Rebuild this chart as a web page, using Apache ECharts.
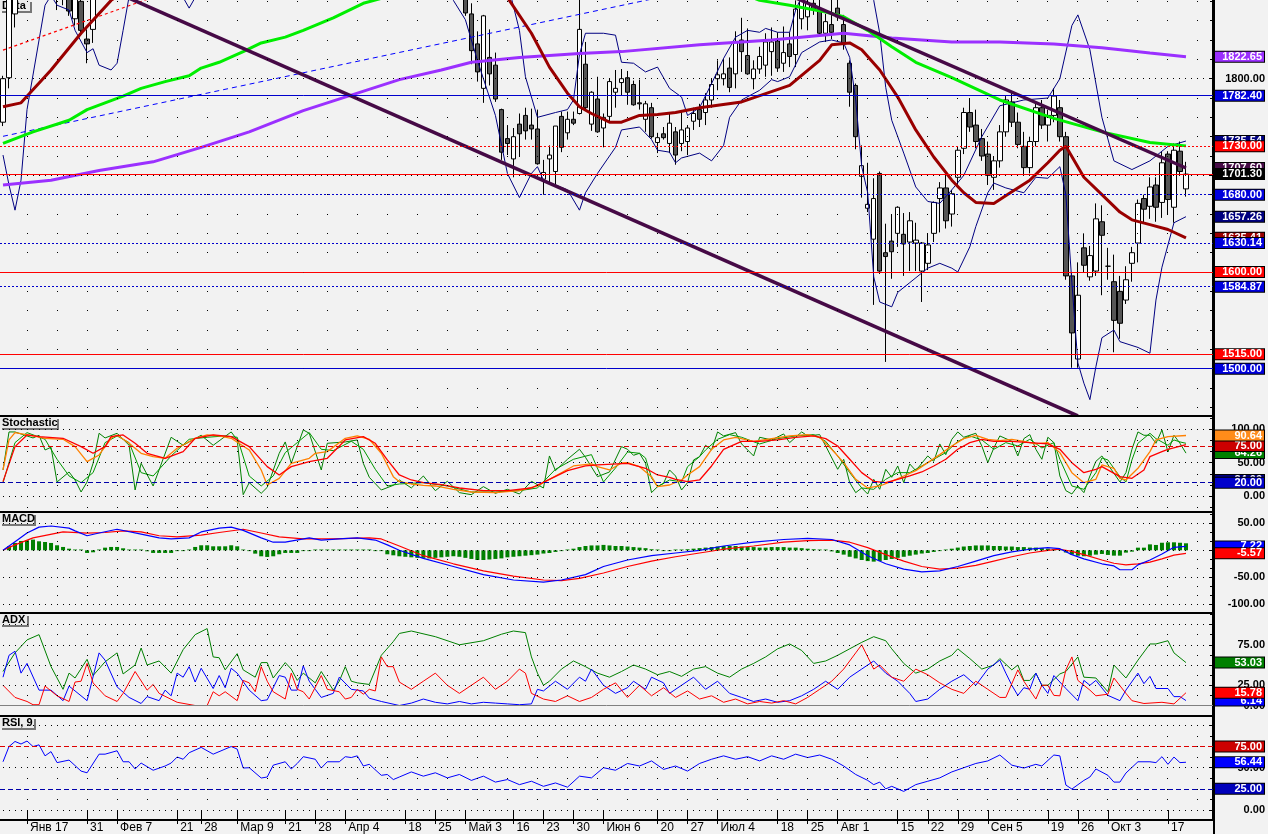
<!DOCTYPE html>
<html><head><meta charset="utf-8">
<script src="https://cdn.jsdelivr.net/npm/echarts@6.0.0/dist/echarts.min.js"></script>
<style>html,body{margin:0;padding:0;background:#f2f2f2;}#c{width:1268px;height:834px;}</style>
</head><body><div id="c"></div>
<script>
// ---------- DATA ----------
const dayCount = 202;
const tickIdx = [4,14,19,29,33,39,47,52,57,67,72,77,85,90,95,100,109,114,119,129,134,139,149,154,159,164,174,179,184,194];
const tickText = ['Янв 17','31','Фев 7','21','28','Мар 9','21','28','Апр 4','18','25','Май 3','16','23','30','Июн 6','20','27','Июл 4','18','25','Авг 1','15','22','29','Сен 5','19','26','Окт 3','17'];

// daily candles: [open, high, low, close]
const ohlc = [
[1755,1803,1751,1800],[1801,1895,1790,1890],[1867,1905,1853,1898],[1898,1925,1888,1915],[1915,1940,1900,1930],
[1930,1945,1905,1912],[1912,1935,1898,1928],[1928,1950,1915,1940],[1940,1955,1900,1905],[1905,1915,1871,1890],
[1890,1910,1876,1902],[1890,1905,1865,1870],[1862,1900,1855,1895],[1880,1895,1846,1850],[1841,1851,1816,1836],
[1851,1905,1837,1898],[1898,1920,1890,1915],[1915,1935,1905,1930],[1930,1950,1920,1945],[1945,1960,1930,1938],
[1938,1955,1925,1950],[1950,1965,1935,1940],[1940,1948,1915,1920],[1920,1945,1912,1940],[1940,1955,1925,1930],
[1930,1940,1905,1910],[1910,1935,1900,1932],[1932,1950,1925,1946],[1946,1965,1938,1960],[1960,1970,1945,1950],
[1950,1962,1940,1958],[1958,1975,1950,1970],[1970,1985,1960,1980],[1980,1992,1968,1975],[1975,1990,1965,1985],
[1985,1998,1975,1990],[1990,2000,1978,1982],[1982,1995,1970,1992],[1992,2005,1985,2000],[2000,2008,1975,1978],
[1978,1985,1940,1945],[1945,1960,1935,1955],[1955,1960,1925,1930],[1930,1945,1915,1940],[1940,1965,1935,1960],
[1960,1975,1950,1970],[1970,1980,1955,1958],[1958,1972,1948,1968],[1968,1985,1960,1980],[1980,1990,1970,1975],
[1975,1988,1965,1984],[1984,1995,1975,1980],[1980,1985,1955,1960],[1960,1975,1950,1972],[1972,1980,1960,1965],
[1965,1978,1955,1975],[1975,1990,1968,1985],[1985,1995,1975,1980],[1980,1992,1972,1988],[1988,1998,1978,1982],
[1982,1986,1955,1960],[1960,1968,1940,1945],[1945,1955,1930,1950],[1950,1958,1925,1930],[1930,1940,1915,1935],
[1935,1945,1910,1915],[1915,1928,1905,1920],[1920,1932,1908,1912],[1912,1925,1900,1922],[1922,1935,1915,1930],
[1930,1938,1905,1908],[1908,1920,1898,1915],[1915,1925,1900,1905],[1905,1918,1895,1912],[1912,1920,1892,1898],
[1898,1912,1890,1908],[1908,1915,1888,1892],[1892,1898,1865,1868],[1867,1878,1815,1829],[1836,1849,1797,1807],
[1790,1866,1775,1865],[1822,1851,1793,1805],[1814,1827,1776,1779],[1768,1769,1716,1724],[1738,1752,1721,1733],
[1717,1749,1698,1740],[1753,1764,1719,1743],[1762,1770,1737,1746],[1752,1769,1737,1748],[1748,1768,1711,1712],
[1696,1716,1680,1703],[1717,1731,1693,1721],[1704,1751,1689,1751],[1761,1766,1724,1729],[1744,1766,1737,1758],
[1758,1766,1752,1754],[1764,1895,1763,1851],[1815,1838,1768,1770],[1753,1787,1746,1786],[1779,1802,1744,1745],
[1749,1764,1729,1760],[1761,1800,1755,1797],[1786,1809,1770,1790],[1796,1810,1783,1800],[1801,1808,1773,1786],
[1794,1798,1772,1773],[1775,1799,1768,1774],[1758,1777,1745,1774],[1770,1775,1738,1740],[1734,1744,1723,1739],
[1743,1750,1737,1739],[1733,1765,1723,1754],[1745,1750,1711,1721],[1733,1767,1725,1747],[1735,1752,1721,1749],
[1756,1770,1747,1764],[1768,1774,1750,1758],[1765,1785,1752,1778],[1778,1800,1770,1794],[1800,1819,1788,1804],
[1800,1821,1793,1805],[1811,1822,1786,1791],[1805,1849,1790,1838],[1840,1863,1807,1828],[1824,1852,1804,1805],
[1800,1819,1789,1810],[1810,1833,1805,1823],[1814,1847,1802,1838],[1828,1853,1803,1838],[1839,1848,1807,1811],
[1816,1854,1807,1827],[1836,1848,1812,1823],[1825,1881,1812,1872],[1862,1890,1851,1882],[1864,1888,1850,1878],
[1878,1886,1866,1872],[1871,1886,1845,1847],[1847,1867,1838,1859],[1856,1886,1841,1848],[1873,1885,1860,1864],
[1856,1866,1830,1836],[1816,1819,1771,1786],[1793,1795,1727,1740],[1699,1731,1677,1710],[1666,1713,1662,1670],
[1634,1697,1566,1676],[1702,1704,1598,1601],[1620,1650,1507,1616],[1632,1660,1593,1621],[1640,1668,1626,1667],
[1639,1661,1596,1629],[1631,1662,1601,1653],[1630,1651,1601,1633],[1601,1631,1569,1630],[1609,1640,1602,1628],
[1640,1673,1631,1672],[1676,1693,1641,1687],[1687,1700,1645,1653],[1660,1685,1647,1681],[1698,1730,1690,1726],
[1728,1770,1722,1765],[1765,1780,1745,1750],[1752,1768,1728,1735],[1738,1748,1715,1720],[1722,1735,1690,1700],
[1698,1720,1685,1715],[1715,1752,1708,1745],[1745,1782,1740,1778],[1776,1786,1750,1755],[1755,1765,1728,1732],
[1730,1745,1700,1708],[1708,1740,1702,1735],[1735,1775,1730,1770],[1770,1778,1748,1752],[1752,1768,1735,1762],
[1762,1790,1755,1782],[1770,1778,1735,1740],[1740,1745,1592,1596],[1596,1600,1501,1537],[1510,1610,1501,1576],
[1625,1640,1600,1607],[1595,1627,1591,1617],[1601,1671,1596,1655],[1652,1669,1576,1638],[1606,1625,1592,1606],
[1590,1618,1517,1550],[1580,1596,1531,1547],[1571,1606,1567,1592],[1609,1626,1590,1620],[1630,1675,1610,1671],
[1676,1680,1650,1665],[1668,1698,1655,1688],[1690,1698,1652,1667],[1672,1725,1656,1713],[1722,1725,1660,1675],
[1667,1733,1651,1726],[1725,1735,1700,1704],[1686,1714,1678,1701.3]
];

// price overlays: [dayIndex, value]
const maDarkRed = [[0,1771],[3,1775],[8,1809],[13,1847],[18,1881],[25,1912],[35,1945],[50,1955],[65,1940],[75,1915],[84,1884],[88,1847],[91,1812],[94,1785],[96,1771],[98,1764],[101,1755],[103,1755],[106,1762],[109,1763],[112,1765],[116,1770],[123,1776],[131,1793],[136,1819],[138,1835],[141,1837],[143,1830],[146,1809],[149,1781],[152,1747],[155,1719],[158,1695],[160,1682],[162,1672],[165,1671],[168,1683],[171,1695],[174,1713],[176,1726],[177,1730],[180,1698],[183,1680],[186,1662],[188,1654],[191,1649],[194,1644],[197,1635.41]];
const maGreen = [[0,1733],[5,1745],[11,1757],[14,1768],[20,1782],[23,1790],[27,1797],[31,1803],[33,1811],[36,1817],[40,1828],[43,1837],[47,1843],[50,1850],[55,1863],[60,1878],[70,1895],[90,1905],[110,1900],[124,1886],[126,1881],[131,1876],[137,1869],[140,1864],[144,1850],[148,1833],[152,1817],[158,1801],[166,1778],[175,1759],[183,1745],[191,1734],[197,1730.5]];
const maPurple = [[0,1690],[8,1695],[16,1705],[25,1714],[33,1729],[41,1745],[50,1767],[58,1783],[66,1799],[73,1809],[78,1817],[86,1822],[96,1826],[103,1828],[116,1835],[128,1840],[140,1847],[148,1842],[158,1838],[166,1838],[175,1836],[183,1832],[191,1826.5],[197,1822.65]];
const bandUpper = [[0,1960],[20,1990],[40,2020],[60,2010],[75,1960],[84,1900],[86,1850],[87,1802],[89,1760],[92,1765],[94,1768],[95,1778],[96,1825],[97,1847],[100,1847],[102,1845],[103,1817],[105,1816],[107,1807],[109,1812],[111,1790],[113,1781],[114,1762],[116,1770],[118,1795],[120,1821],[122,1843],[124,1850],[126,1848],[127,1852],[129,1848],[131,1848],[132,1871],[133,1885],[137,1920],[141,1920],[144,1895],[145,1881],[146,1847],[147,1791],[148,1757],[150,1723],[152,1688],[154,1673],[156,1671],[158,1685],[160,1700],[163,1740],[166,1772],[170,1778],[174,1780],[176,1800],[178,1855],[179,1866],[181,1830],[183,1760],[185,1715],[188,1706],[191,1715],[194,1730],[197,1735.54]];
const bandLower = [[0,1721],[1,1690],[2,1664],[3,1695],[4,1768],[6,1840],[7,1876],[8,1886],[9,1876],[11,1871],[12,1850],[14,1827],[15,1831],[16,1814],[18,1809],[19,1816],[20,1850],[21,1885],[25,1900],[30,1884],[31,1873],[32,1884],[40,1910],[60,1920],[72,1900],[75,1881],[77,1861],[79,1819],[82,1762],[84,1702],[86,1677],[88,1702],[89,1709],[90,1695],[92,1690],[94,1685],[96,1664],[97,1682],[99,1702],[102,1729],[103,1747],[106,1750],[108,1737],[109,1726],[111,1724],[112,1713],[113,1718],[116,1723],[118,1715],[120,1731],[121,1760],[123,1778],[126,1788],[128,1799],[129,1797],[131,1802],[133,1827],[136,1838],[138,1840],[140,1837],[141,1822],[142,1778],[143,1709],[144,1682],[145,1595],[146,1569],[148,1564],[149,1579],[151,1589],[153,1599],[154,1604],[156,1609],[158,1604],[159,1600],[161,1626],[162,1647],[164,1682],[165,1692],[167,1687],[170,1682],[172,1698],[174,1697],[176,1709],[177,1680],[178,1589],[179,1506],[180,1485],[181,1468],[182,1502],[183,1532],[185,1540],[186,1528],[189,1522],[191,1516],[192,1571],[193,1605],[195,1651],[197,1657.26]];
const trendBlueDash = [[0,1740.4],[120,1898.1]];
const trendRedDash = [[0,1829.6],[30,1895.2]];
const trendDark1 = [[20,1886],[179,1451.1]];
const trendDark2 = [[130,1889],[197,1707.6]];
const levelsMain = {blueSolid:[1782.4,1500], redSolid:[1701.3,1600,1515], redDotted:[1730], blueDotted:[1680,1630.14,1584.87]};

// stochastic
const stochGreen = [[0,39],[1,96],[2,96],[4,90],[5,87],[6,91],[7,69],[8,73],[9,21],[11,36],[12,24],[13,6],[14,21],[15,49],[16,94],[17,87],[19,94],[21,76],[22,9],[23,49],[25,15],[28,88],[30,76],[33,91],[35,76],[38,96],[39,84],[40,2],[41,20],[43,4],[44,13],[46,64],[47,81],[48,49],[50,99],[51,94],[53,39],[54,79],[57,81],[59,84],[60,49],[61,28],[63,9],[65,16],[66,24],[68,12],[70,30],[72,8],[74,22],[76,5],[78,2],[80,14],[82,4],[84,10],[86,3],[88,22],[90,12],[91,60],[92,38],[94,55],[96,70],[97,58],[99,29],[101,36],[103,74],[104,70],[105,61],[106,64],[107,49],[108,5],[109,14],[110,19],[111,39],[112,30],[113,9],[114,20],[115,54],[116,59],[117,76],[118,69],[119,96],[120,90],[122,95],[123,78],[125,60],[126,88],[128,84],[130,93],[131,80],[133,96],[134,90],[136,92],[137,75],[139,40],[140,55],[141,20],[142,5],[143,12],[144,3],[145,25],[146,10],[147,40],[148,28],[149,45],[150,20],[151,48],[152,38],[154,60],[155,52],[156,78],[157,62],[158,85],[159,96],[160,88],[162,94],[163,75],[164,50],[165,72],[166,90],[168,82],[169,60],[170,86],[171,92],[172,70],[173,55],[174,88],[175,80],[176,30],[177,8],[178,3],[179,15],[180,5],[181,30],[182,52],[183,60],[185,34],[186,21],[187,35],[188,70],[189,96],[190,91],[191,91],[192,79],[193,99],[194,66],[195,91],[196,79],[197,64.26]];
const stochGreen2 = [[0,20],[2,80],[4,95],[7,85],[9,55],[11,30],[13,20],[15,35],[17,80],[19,90],[21,80],[23,35],[25,30],[28,60],[31,85],[34,88],[37,90],[39,88],[41,30],[43,15],[45,30],[47,65],[49,80],[51,95],[53,70],[55,68],[58,82],[60,70],[62,40],[64,15],[66,18],[70,20],[74,15],[78,6],[82,6],[86,8],[89,12],[92,40],[95,55],[98,62],[100,21],[102,42],[104,66],[106,64],[107,57],[108,27],[109,14],[111,24],[113,21],[114,44],[116,59],[117,69],[119,85],[121,92],[123,88],[126,78],[129,86],[132,90],[135,92],[137,82],[139,60],[141,35],[143,12],[145,10],[147,25],[149,35],[151,35],[153,45],[155,55],[157,65],[159,82],[161,90],[163,84],[165,70],[167,80],[169,75],[171,85],[173,72],[175,80],[176,55],[178,15],[180,10],[182,35],[183,57],[184,54],[186,29],[187,21],[188,54],[189,79],[191,94],[192,86],[194,76],[195,84],[196,81],[197,79]];
const stochOrange = [[0,39],[1,84],[2,95],[5,90],[7,86.5],[10,85],[12,74],[14,51.5],[16,61.5],[18,86.5],[19,91.5],[21,79],[23,64],[25,59],[27,56.5],[29,71.5],[32,86.5],[34,91.5],[36,90],[38,86.5],[41,69],[43,39],[44,16.5],[46,26.5],[48,49],[51,56.5],[52,64],[54,66.5],[57,86.5],[59,90],[61,85],[63,64],[65,29],[66,21.5],[68,18],[70,16],[72,15],[75,10],[78,6],[82,5],[86,8],[89,15],[92,30],[95,45],[98,48],[99,44],[101,39],[103,49.5],[104,50],[106,44],[108,29],[109,14],[111,16.5],[113,24],[114,31.5],[116,44],[118,70],[120,84],[122,88],[125,82],[128,86],[131,90],[134,92],[136,88],[138,70],[140,50],[142,25],[144,12],[146,15],[148,22],[150,30],[152,38],[154,50],[156,62],[158,75],[160,86],[162,91],[164,85],[166,83],[168,85],[170,82],[172,78],[174,80],[176,65],[178,35],[180,20],[182,25],[183,46.5],[185,41.5],[186,26.5],[187,24],[189,41.5],[191,66.5],[192,84],[194,89],[197,90.64]];
const stochRed = [[0,21.5],[2,74],[4,91.5],[6,89],[10,86.5],[13,74],[15,64],[17,74],[18,89],[20,91.5],[22,79],[24,64],[27,56.5],[30,66.5],[32,86.5],[35,91.5],[38,89],[41,74],[44,44],[46,31.5],[48,44],[51,51.5],[54,56.5],[57,84],[60,89],[62,79],[64,54],[66,31.5],[68,24],[70,20],[73,17],[76,12],[80,8],[84,8],[88,12],[91,25],[94,38],[97,45],[99,46.5],[104,49],[107,41.5],[109,31.5],[111,28],[112,25],[114,21.5],[116,24],[118,45],[120,70],[123,82],[126,82],[129,84],[132,88],[135,90],[137,86],[139,75],[141,55],[143,35],[145,22],[147,20],[149,25],[151,30],[153,36],[155,45],[157,55],[159,70],[161,80],[163,85],[165,82],[168,82],[171,80],[174,78],[176,70],[178,50],[180,35],[182,40],[183,44],[186,29],[188,26.5],[190,39],[191,59],[193,66.5],[194,70],[197,77]];

// MACD
const macdLine = [[0,0],[2,16],[4,32],[6,43],[8,45],[11,41],[12,36],[14,27],[16,32],[19,39],[23,30],[26,23],[28,21],[31,23],[33,34],[36,41],[38,43],[40,37],[43,23],[45,15],[47,15],[51,23],[53,19],[56,21],[59,23],[62,19],[64,10],[66,0],[70,-15],[75,-30],[80,-45],[85,-55],[90,-59],[93,-55],[97,-45],[100,-30],[104,-18],[108,-10],[112,-5],[116,0],[120,8],[125,15],[130,20],[134,22],[138,20],[141,10],[144,-10],[147,-25],[150,-35],[153,-40],[156,-38],[159,-30],[162,-20],[165,-10],[168,-3],[171,2],[174,5],[176,3],[178,-8],[180,-16],[183,-25],[185,-29],[186,-36],[188,-36],[189,-27],[191,-18],[193,-7],[195,5.5],[197,7.22]];
const macdSignal = [[0,0],[2,10],[5,23],[10,34],[14,32],[17,33],[20,36],[23,34],[26,27],[29,25],[33,28],[36,33],[40,39],[43,32],[46,25],[50,21],[55,21],[61,23],[63,21],[66,8],[70,-10],[75,-25],[80,-38],[85,-48],[90,-55],[93,-56],[96,-52],[100,-42],[104,-30],[108,-20],[112,-12],[116,-5],[120,2],[125,8],[130,15],[134,18],[138,19],[141,15],[144,5],[147,-8],[150,-20],[153,-30],[156,-35],[159,-33],[162,-28],[165,-20],[168,-12],[171,-5],[174,0],[176,2],[178,-2],[180,-8],[183,-18],[185,-24],[187,-27],[189,-25],[191,-22],[193,-16],[195,-9],[197,-5.57]];
const macdHist = [0,7.4,13.6,17.3,18.5,19.8,16.7,15.4,13.6,9.3,6.2,3,1.5,1.5,-4.9,-3.7,1.5,4.9,6.2,6.2,3.7,1.5,1.5,1.5,-1.8,-4.9,-4.9,-4.9,-4.9,-1.5,-1.5,1.5,6.2,9.3,9.3,7.4,7.4,7.4,9.3,7.4,1.5,-1.5,-6.2,-11.1,-12.3,-11.1,-7.4,-4.9,-4.9,-4.9,-1.5,-1.5,1.5,1.5,1.5,1.5,1.5,1.5,1.5,1.5,1.5,1.5,-1.5,-1.5,-7.4,-9.3,-11.1,
-12,-13,-14,-14,-15,-14,-13,-12,-11,-12,-14,-16,-18,-18,-17,-16,-15,-13,-12,-11,-10,-9,-8,-6,-5,-3,-1.5,1.5,3,6,8,9,9,10,9,8,8,7,6,5,4,2,1.5,-1.5,-1.5,1.5,1.5,2,3,4,5,6,7,8,8,8,7,6,6,5,5,6,6,6,5,5,4,3,2,1.5,1.5,-2,-5,-8,-12,-15,-18,-20,-21,-20,-18,-16,-14,-12,-10,-8,-6,-5,-3,-1.5,1.5,3,5,7,8,9,9,9,8,8,7,7,6,6,5,5,4,3,2,1.5,-4,-8,-10,-11,-10,-8,-6.8,-8.6,-9.9,-9.9,-4.3,-2.5,4.9,4.9,11,9.9,14,14.8,14.8,14,13];

// ADX
const adxLine = [[0,42],[2,65],[4,81],[6,87.5],[8,48],[10,20],[11,40],[12,34],[14,57],[15,37],[17,54],[19,65],[20,39],[22,50],[23,71],[24,50],[26,55],[28,40],[30,69],[32,87.5],[34,95],[35,60],[36,59],[37,44],[39,64],[40,44],[42,35],[43,53],[44,53],[45,34],[47,53],[48,45],[49,31],[50,40],[52,28],[53,42],[55,19],[56,30],[57,48],[58,30],[59,28],[61,26],[63,62],[65,79],[66,89],[68,92],[72,85],[76,75],[80,80],[83,88],[85,92],[87,90],[88,60],[89,40],[90,25],[91,30],[93,45],[95,55],[97,48],[99,40],[101,35],[103,42],[105,50],[107,45],[109,38],[111,42],[113,36],[115,45],[117,48],[119,40],[121,35],[123,45],[125,52],[127,60],[129,70],[131,76],[133,68],[135,52],[137,55],[139,62],[141,70],[143,78],[145,85],[147,80],[148,70],[150,52],[152,40],[154,45],[156,55],[158,62],[159,70],[161,58],[163,45],[165,50],[166,58],[168,44],[169,50],[170,31],[171,31],[172,40],[173,25],[174,25],[176,39],[177,42],[179,60],[180,35],[182,34],[184,17],[185,50],[187,34],[189,56],[191,76],[192,76],[194,80],[195,65],[197,53.03]];
const diPlus = [[0,35],[1,62],[2,67],[3,40],[4,52],[6,19],[8,19],[10,6],[11,24],[12,18],[14,6],[16,65],[17,56],[19,23],[21,10],[23,2.5],[24,11],[26,6],[27,19],[28,12],[29,40],[30,35],[31,48],[32,29],[33,46],[35,21],[36,37],[37,22],[38,46],[39,40],[41,19],[43,6],[44,7],[46,37],[47,35],[48,19],[49,19],[50,49],[51,30],[52,20],[53,10],[55,15],[56,35],[58,20],[60,18],[61,9],[63,5],[66,0],[68,3],[70,8],[72,4],[74,2],[76,5],[78,2],[80,4],[82,3],[84,2],[86,1],[88,2],[89,20],[90,18],[92,30],[94,20],[96,35],[97,30],[98,45],[100,25],[102,15],[104,22],[105,30],[107,20],[108,35],[110,28],[111,15],[113,25],[115,35],[117,20],[119,30],[121,15],[123,10],[125,5],[127,8],[129,4],[131,6],[133,12],[135,20],[137,30],[139,20],[141,35],[143,45],[145,55],[147,40],[149,30],[151,15],[152,5],[154,8],[156,20],[158,30],[160,38],[162,25],[164,45],[166,56],[167,40],[168,25],[169,12.5],[170,22],[171,20],[172,40],[173,25],[174,15],[175,37],[177,21],[179,6],[180,31],[181,25],[182,31],[184,12.5],[186,6],[187,19],[189,40],[190,27],[191,36],[192,21],[194,21],[195,11],[196,11],[197,6.14]];
const diMinus = [[0,25],[2,10],[4,5],[5,1],[6,1],[7,24],[8,18],[9,12],[11,5],[12,29],[13,30],[14,52],[15,28],[16,20],[17,12],[19,5],[20,15],[22,42],[24,19],[25,26],[26,15],[29,4],[32,0],[34,0],[35,17],[36,12],[37,17],[39,6],[40,31],[41,28],[42,17],[43,48],[44,30],[45,17],[47,8],[48,40],[49,20],[50,17],[51,8],[53,37],[54,20],[56,17],[57,8],[58,10],[59,20],[60,14],[61,20],[62,18],[63,60],[64,48],[65,48],[66,29],[68,20],[70,30],[72,40],[74,25],[76,15],[78,25],[80,35],[82,20],[84,30],[86,45],[87,40],[88,15],[90,8],[92,5],[94,12],[96,5],[98,10],[100,20],[102,28],[104,10],[106,25],[108,12],[110,22],[112,10],[114,18],[116,8],[118,12],[120,4],[122,8],[124,2],[126,5],[128,3],[130,6],[132,2],[134,10],[136,20],[138,30],[140,45],[141,55],[142,65],[143,75],[144,60],[145,45],[146,50],[148,35],[150,30],[152,45],[154,38],[156,28],[158,20],[160,15],[162,30],[164,20],[166,10],[167,10],[169,44],[170,30],[172,8],[173,25],[174,25],[175,12.5],[176,12],[177,44],[178,60],[179,31],[180,25],[181,19],[182,12],[184,14],[185,34],[187,15],[188,6],[190,2.5],[193,4],[195,2],[197,15.78]];

// RSI
const rsiLine = [[0,57],[1,75],[2,81],[3,78],[4,81.5],[5,75],[6,77],[7,64],[8,69],[9,56],[11,59],[13,46],[14,44],[16,66],[17,66],[19,70],[20,57],[21,57],[22,48.5],[23,55.5],[25,47],[27,52],[28,55.5],[29,62.6],[30,60],[31,67.7],[33,74],[35,66],[38,75],[39,72],[40,49.6],[41,50],[43,37.8],[44,39],[45,53],[47,57],[48,48.5],[49,55],[50,63],[52,60],[53,49.6],[54,57],[56,57],[57,63],[58,62],[59,64],[60,52],[61,54],[63,41],[64,42],[65,36],[66,39],[68,45],[70,40],[72,44],[74,38],[76,42],[78,35],[80,40],[82,33],[84,36],[86,30],[88,34],[90,28],[92,32],[94,27],[96,40],[98,38],[100,50],[102,47],[104,55],[106,52],[108,58],[110,48],[112,52],[114,46],[116,55],[118,60],[120,64],[122,60],[124,63],[126,58],[128,64],[130,60],[132,66],[134,62],[136,65],[138,60],[140,52],[142,42],[144,35],[145,30],[146,33],[147,25],[148,28],[150,22],[152,30],[154,34],[156,38],[158,45],[160,50],[162,55],[164,58],[166,65],[168,53],[170,49.6],[172,54],[173,52],[175,65],[176,64],[177,29.5],[178,24.8],[180,35],[181,39],[182,48.5],[184,41],[185,33],[186,33],[187,43.7],[189,57],[191,57],[192,56],[193,63],[194,54],[195,62.6],[196,56],[197,56.44]];

// axis tick / label values
const mainTicks = [1460,1480,1500,1520,1540,1560,1580,1600,1620,1640,1660,1680,1700,1720,1740,1760,1780,1800,1820,1840,1860,1880];
const mainLabels = [1500,1600,1700,1800];
const stochTicks = [-16.67,0,16.67,33.33,50,66.67,83.33,100,116.67];
const stochLabels = [0,50,100];
const macdTicks = [-100,-83.33,-66.67,-50,-33.33,-16.67,0,16.67,33.33,50,66.67];
const macdLabels = [-100,-50,0,50];
const adxTicks = [0,12.5,25,37.5,50,62.5,75,87.5,100,112.5];
const adxLabels = [0,25,50,75];
const rsiTicks = [0,12.5,25,37.5,50,62.5,75,87.5,100];
const rsiLabels = [0,50];

// ---------- LAYOUT ----------
const plotW = 1214;
const panels = [
  {top:0, height:415, min:1452.1, max:1881.4, ticks:mainTicks, labels:mainLabels, title:'Data'},
  {top:417, height:94, min:-22.5, max:118.4, ticks:stochTicks, labels:stochLabels, title:'Stochastic'},
  {top:513, height:99, min:-114.3, max:69.1, ticks:macdTicks, labels:macdLabels, title:'MACD'},
  {top:614, height:101, min:-11.7, max:113, ticks:adxTicks, labels:adxLabels, title:'ADX'},
  {top:717, height:102, min:-10.6, max:109.9, ticks:rsiTicks, labels:rsiLabels, title:'RSI, 9'}
];
const FONT = 'Liberation Sans';
const cats = Array.from({length: dayCount}, (_, i) => String(i));
const tickMap = {}; tickIdx.forEach((d, k) => { tickMap[d] = tickText[k]; });
const last = a => a[a.length - 1][1];
const HIDDEN = {color:'rgba(0,0,0,0)', width:1, type:'solid'};

function dotRows(values, dense) {
  return values.map(t => ({
    yAxis: t,
    lineStyle: {color:'#000', width:1, type: dense.includes(t) ? [1,5] : [1,29], dashOffset: 3},
    label: {show:false}
  }));
}
function tag(v, bg, line) {
  return {
    yAxis: v,
    lineStyle: line || HIDDEN,
    label: {
      show: true, position: 'end', distance: 2, opacity: 1,
      formatter: () => '{a|' + v.toFixed(2) + '}',
      backgroundColor: bg, borderColor: '#000', borderWidth: 1, padding: [0, 2, 0, 1],
      rich: {a: {width: 46, align: 'right', color: '#fff', fontWeight: 'bold', fontSize: 11, lineHeight: 10, fontFamily: FONT}}
    }
  };
}
function plainLine(v, color, type) {
  return {yAxis: v, lineStyle: {color, width: 1, type}, label: {show: false}};
}
function markSeries(k, items, z) {
  return {type:'line', xAxisIndex:k, yAxisIndex:k, data:[], z: z, silent:true,
    markLine: {silent:true, symbol:['none','none'], animation:false, precision: 4, data: items}};
}
function lineS(k, data, color, width, z, type) {
  return {type:'line', xAxisIndex:k, yAxisIndex:k, data, showSymbol:false, symbol:'none', z: z || 3,
    lineStyle:{color, width, type: type || 'solid'}, silent:true, animation:false};
}

const grid = panels.map(p => ({left:0, width:plotW, top:p.top, height:p.height, containLabel:false}));
const xAxis = panels.map((p, k) => {
  const ax = {type:'category', gridIndex:k, data:cats, boundaryGap:true, show: k === 4,
    axisLine:{show:false}, splitLine:{show:false}, axisTick:{show:false}, axisLabel:{show:false}};
  if (k === 4) {
    ax.axisTick = {show:true, alignWithLabel:true, interval:(i) => tickMap[i] !== undefined, length:14, lineStyle:{color:'#000', width:1}};
    ax.axisLabel = {show:true, interval:(i) => tickMap[i] !== undefined, formatter:(v, i) => tickMap[i] || '',
      align:'left', margin:3, padding:[0,0,0,3], color:'#000', fontSize:12, fontFamily:FONT};
  }
  return ax;
});
const yAxis = panels.map((p, k) => ({
  type:'value', gridIndex:k, position:'right', min:p.min, max:p.max,
  axisLine:{show:true, onZero:false, lineStyle:{color:'#000', width:2}},
  axisTick:{show:true, inside:true, length:3, customValues:p.ticks, lineStyle:{color:'#000', width:1}},
  axisLabel:{show:true, customValues:p.labels, formatter:(v) => Number(v).toFixed(2), align:'right', margin:52,
    color:'#000', fontWeight:'bold', fontSize:11, fontFamily:FONT},
  splitLine:{show:false}
}));

const series = [];
// main panel
series.push(markSeries(0, dotRows(mainTicks.filter(t => t > 1453 && t < 1881), mainLabels), 0));
series.push(markSeries(0, [
  ...levelsMain.blueSolid.map(v => plainLine(v, '#0000cc', 'solid')),
  ...levelsMain.redSolid.map(v => plainLine(v, '#ff0000', 'solid')),
  ...levelsMain.redDotted.map(v => plainLine(v, '#ff0000', [2,2])),
  ...levelsMain.blueDotted.map(v => plainLine(v, '#0000cc', [2,2]))
], 1));
series.push({type:'candlestick', xAxisIndex:0, yAxisIndex:0, z:2, barWidth:5, silent:true, animation:false,
  data: ohlc.map(r => [r[0], r[3], r[2], r[1]]),
  itemStyle:{color:'#ffffff', color0:'#555555', borderColor:'#000000', borderColor0:'#000000', borderWidth:1}});
series.push(lineS(0, bandUpper, '#000080', 1));
series.push(lineS(0, bandLower, '#000080', 1));
series.push(lineS(0, trendBlueDash, '#0000ff', 1, 3, [5,4]));
series.push(lineS(0, trendRedDash, '#ff0000', 1.2, 3, [3,3]));
series.push(lineS(0, maPurple, '#9b30ff', 3));
series.push(lineS(0, maGreen, '#00ee00', 3));
series.push(lineS(0, maDarkRed, '#990000', 3));
series.push(lineS(0, trendDark1, '#460a46', 3.5));
series.push(lineS(0, trendDark2, '#460a46', 3.5));
series.push(markSeries(0, [
  tag(last(maPurple), '#9b30ff'),
  tag(1782.4, '#0000dd'),
  tag(last(bandUpper), '#000080'),
  tag(1730, '#ff0000'),
  tag(last(trendDark2), '#460a46'),
  tag(ohlc[ohlc.length-1][3], '#000000'),
  tag(1680, '#0000dd'),
  tag(last(bandLower), '#000080'),
  tag(last(maDarkRed), '#990000'),
  tag(1630.14, '#0000dd'),
  tag(1600, '#ff0000'),
  tag(1584.87, '#0000dd'),
  tag(1515, '#ff0000'),
  tag(1500, '#0000dd')
], 1));

// stochastic
series.push(markSeries(1, dotRows(stochTicks.filter(t => t < 116), stochLabels), 0));
series.push(lineS(1, stochGreen, '#008000', 1));
series.push(lineS(1, stochGreen2, '#009900', 1));
series.push(lineS(1, stochOrange, '#ff8000', 1.3));
series.push(lineS(1, stochRed, '#ff0000', 1.3));
series.push(markSeries(1, [
  tag(last(stochGreen), '#008000'),
  tag(75, '#cc0000', {color:'#dd0000', width:1, type:[5,3]}),
  tag(last(stochOrange), '#ff8c1a'),
  tag(24, '#000080'),
  tag(20, '#0000cc', {color:'#0000aa', width:1, type:[5,3]})
], 4));

// MACD
series.push(markSeries(2, dotRows(macdTicks.filter(t => t < 66), macdLabels), 0));
series.push({type:'bar', xAxisIndex:2, yAxisIndex:2, data:macdHist, barWidth:4, z:2, silent:true, animation:false,
  itemStyle:{color:'#008000'}});
series.push(lineS(2, macdSignal, '#ff0000', 1.2));
series.push(lineS(2, macdLine, '#0000ff', 1.2));
series.push(markSeries(2, [tag(last(macdLine), '#0000ff'), tag(last(macdSignal), '#ff0000')], 4));

// ADX
series.push(markSeries(3, [...dotRows(adxTicks.filter(t => t > 1 && t < 110), [25,50,75,100]), plainLine(0, '#808080', 'solid')], 0));
series.push(lineS(3, adxLine, '#008000', 1));
series.push(lineS(3, diPlus, '#0000ff', 1));
series.push(lineS(3, diMinus, '#ff0000', 1));
series.push(markSeries(3, [tag(last(adxLine), '#008000'), tag(last(diPlus), '#0000ff'), tag(last(diMinus), '#ff0000')], 4));

// RSI
series.push(markSeries(4, dotRows(rsiTicks, [0,50,100]), 0));
series.push(lineS(4, rsiLine, '#0000ff', 1));
series.push(markSeries(4, [
  tag(75, '#cc0000', {color:'#dd0000', width:1, type:[5,3]}),
  tag(last(rsiLine), '#0000ff'),
  tag(25, '#0000bb', {color:'#0000aa', width:1, type:[5,3]})
], 4));

// frame + panel titles
const graphic = [];
panels.forEach((p, k) => {
  if (k > 0) graphic.push({type:'rect', shape:{x:0, y:p.top - 2, width:plotW + 1, height:2}, style:{fill:'#000'}, z:50});
});
const lastP = panels[4];
graphic.push({type:'rect', shape:{x:0, y:lastP.top + lastP.height, width:plotW + 1, height:2}, style:{fill:'#000'}, z:50});
graphic.push({type:'rect', shape:{x:plotW - 1, y:0, width:2, height:834}, style:{fill:'#000'}, z:50});
const titleW = {'Data':30, 'Stochastic':57, 'MACD':34, 'ADX':27, 'RSI, 9':34};
panels.forEach((p, k) => {
  const w = titleW[p.title];
  graphic.push({type:'group', x:0, y:p.top, z: k === 0 ? 1 : 60, children:[
    {type:'rect', shape:{x:2, y:2, width:w, height:11}, style:{fill:'#777'}},
    {type:'rect', shape:{x:0, y:0, width:w, height:11}, style:{fill:'#ececec'}},
    {type:'text', x:2, y:0, style:{text:p.title, fill:'#000', font:'bold 11px "' + FONT + '"', verticalAlign:'top'}}
  ]});
});

const chart = echarts.init(document.getElementById('c'), null, {renderer:'canvas'});
chart.setOption({
  backgroundColor:'#f2f2f2', animation:false,
  grid, xAxis, yAxis, series, graphic
});
</script></body></html>
